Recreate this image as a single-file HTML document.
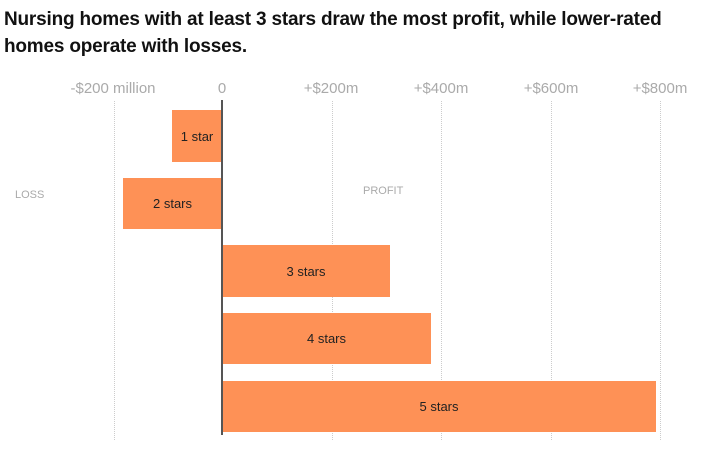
<!DOCTYPE html>
<html><head><style>
body{margin:0;background:#fff;width:714px;height:450px;overflow:hidden;font-family:"Liberation Sans",sans-serif;position:relative}
.t{position:absolute;left:4px;top:6px;font-size:19px;font-weight:bold;line-height:27px;color:#111;letter-spacing:-0.2px}
.tk{position:absolute;top:80px;font-size:15px;color:#aaa;transform:translateX(-50%);white-space:nowrap}
.g{position:absolute;top:101px;height:339px;border-left:1px dotted #ccc}
.b{position:absolute;background:#fe9156;font-size:13px;color:#222;display:flex;align-items:center;justify-content:center}
.s{position:absolute;font-size:11px;color:#aaa}
</style></head><body>
<div class="t">Nursing homes with at least 3 stars draw the most profit, while lower-rated<br>homes operate with losses.</div>
<div class="tk" style="left:113px">-$200 million</div>
<div class="tk" style="left:222px">0</div>
<div class="tk" style="left:331px">+$200m</div>
<div class="tk" style="left:441px">+$400m</div>
<div class="tk" style="left:551px">+$600m</div>
<div class="tk" style="left:660px">+$800m</div>
<div class="g" style="left:114px"></div>
<div class="g" style="left:332px"></div>
<div class="g" style="left:441px"></div>
<div class="g" style="left:551px"></div>
<div class="g" style="left:660px"></div>
<div class="s" style="left:15px;top:189px">LOSS</div>
<div class="s" style="left:363px;top:185px">PROFIT</div>
<div class="b" style="left:172px;top:110px;width:50px;height:52px">1 star</div>
<div class="b" style="left:123px;top:178px;width:99px;height:51px">2 stars</div>
<div class="b" style="left:222px;top:245px;width:168px;height:52px">3 stars</div>
<div class="b" style="left:222px;top:313px;width:209px;height:51px">4 stars</div>
<div class="b" style="left:222px;top:381px;width:434px;height:51px">5 stars</div>
<div style="position:absolute;left:221px;top:100px;width:2px;height:335px;background:#555"></div>
</body></html>
